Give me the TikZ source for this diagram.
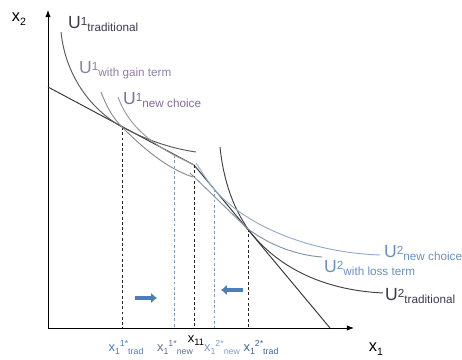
\documentclass[tikz,border=0pt]{standalone}
\usepackage{fontspec}
\setmainfont{Liberation Sans}
\usetikzlibrary{arrows.meta}

\definecolor{utrad}{HTML}{3B3950}
\definecolor{ugain}{HTML}{8C80A4}
\definecolor{unew}{HTML}{7D6F9A}
\definecolor{utwo}{HTML}{6A90C0}
\definecolor{blushift}{HTML}{4A7EBB}
\definecolor{lightdash}{HTML}{7F9AB8}

% U with a raised index and a lowered tag, one after the other
\newcommand{\ulab}[2]{U\raisebox{3.4pt}{\fontsize{10}{10}\selectfont #1}\raisebox{-2.4pt}{\fontsize{10}{10}\selectfont #2}}
% x_1 with a raised star index and a lowered tag
\newcommand{\xlab}[2]{x\raisebox{-2pt}{\fontsize{7.5}{7.5}\selectfont 1}\raisebox{5pt}{\fontsize{7.5}{7.5}\selectfont #1}\raisebox{-2pt}{\fontsize{7.5}{7.5}\selectfont #2}}

\begin{document}
\begin{tikzpicture}[x=0.03cm, y=0.03cm,
    axis/.style={line width=0.8pt, -{Latex[length=6pt,width=4.5pt]}},
    budget/.style={line width=0.8pt, draw=black!80},
    dtrad/.style={line width=0.8pt, black!85, dash pattern=on 2.5pt off 2pt},
    dnew/.style={line width=0.7pt, lightdash, dash pattern=on 2.5pt off 2pt},
    curve/.style={line width=0.8pt},
    ulabel/.style={anchor=base west, inner sep=0pt, font=\fontsize{15}{15}\selectfont},
    xlabel/.style={anchor=base, inner sep=0pt, font=\fontsize{11}{11}\selectfont},
    movearrow/.style={line width=2.6pt, blushift, -{Latex[length=5pt,width=9pt]}}]
    \useasboundingbox (0,0) rectangle (462,360);

    % --- axes ---
    \coordinate (o) at (48,32);
    \coordinate (ytop) at (48,350);
    \coordinate (xend) at (354,32);
    \draw[axis] (o) -- (ytop);
    \draw[axis] (o) -- (xend);
    \node[inner sep=0pt, font=\fontsize{14}{14}\selectfont] (xtwo) at (19,341) {x\raisebox{-3.5pt}{\fontsize{9}{9}\selectfont 2}};
    \node[inner sep=0pt, font=\fontsize{14}{14}\selectfont] (xone) at (376,11) {x\raisebox{-3.5pt}{\fontsize{9}{9}\selectfont 1}};

    % --- budget line with kink ---
    \coordinate (b1) at (48,273);
    \coordinate (kink) at (194,195);
    \coordinate (b2) at (330,32);
    \draw[budget] (b1) -- (kink) -- (b2);

    % --- choice points ---
    \coordinate (t1) at (122,233);
    \coordinate (n1) at (174,205);
    \coordinate (n2) at (214,171);
    \coordinate (t2) at (248,131);
    \draw[dtrad] (t1) -- (t1 |- o);
    \draw[dnew] (n1) -- (n1 |- o);
    \draw[dtrad] (kink) -- (kink |- o);
    \draw[dnew] (n2) -- (n2 |- o);
    \draw[dtrad] (t2) -- (t2 |- o);

    % --- U1 curves ---
    \draw[curve, black!65] (61,328) .. controls (66,280) and (95,248) .. (t1)
        .. controls (150,218) and (175,211) .. (196,208);
    \draw[curve, black!45] (101,268) .. controls (106,255) and (112,243) .. (t1)
        .. controls (140,215) and (165,192) .. (193,183);
    \draw[curve, black!40] (118,263) .. controls (128,235) and (150,218) .. (n1)
        .. controls (182,201) and (188,198) .. (194,195);

    % --- U2 curves ---
    \draw[curve, black!75] (220,213) .. controls (224,175) and (235,150) .. (t2)
        .. controls (275,95) and (320,70) .. (383,67);
    \draw[curve, utwo!75] (196,197) .. controls (202,188) and (208,178) .. (n2)
        .. controls (240,140) and (300,108) .. (380,105);
    \draw[curve, black!30!utwo!70] (190,187) .. controls (210,168) and (230,148) .. (t2)
        .. controls (270,115) and (295,105) .. (322,103);

    % --- curve labels ---
    \node[ulabel, utrad] (u1trad) at (68,331) {\ulab{1}{traditional}};
    \node[ulabel, ugain] (u1gain) at (79,286) {\ulab{1}{with gain term}};
    \node[ulabel, unew] (u1new) at (123,255) {\ulab{1}{new choice}};
    \node[ulabel, utwo] (u2new) at (384,102) {\ulab{2}{new choice}};
    \node[ulabel, utwo] (u2loss) at (324,87) {\ulab{2}{with loss term}};
    \node[ulabel, utrad] (u2trad) at (385,59) {\ulab{2}{traditional}};

    % --- shifts of the choices ---
    \coordinate (r1) at (135,62);
    \coordinate (r2) at (157,62);
    \coordinate (l1) at (243,70);
    \coordinate (l2) at (221,70);
    \draw[movearrow] (r1) -- (r2);
    \draw[movearrow] (l1) -- (l2);

    % --- x1 labels ---
    \node[xlabel] (x11) at (196,17) {x\raisebox{-2pt}{\fontsize{8}{8}\selectfont 11}};
    \node[xlabel, blushift] (xt1) at (126,8) {\xlab{1*}{trad}};
    \node[xlabel, black!25!lightdash] (xn1) at (175,8) {\xlab{1*}{new}};
    \node[xlabel, utwo!85] (xn2) at (222,8) {\xlab{2*}{new}};
    \node[xlabel, black!20!blushift] (xt2) at (261,8) {\xlab{2*}{trad}};
\end{tikzpicture}
\end{document}
